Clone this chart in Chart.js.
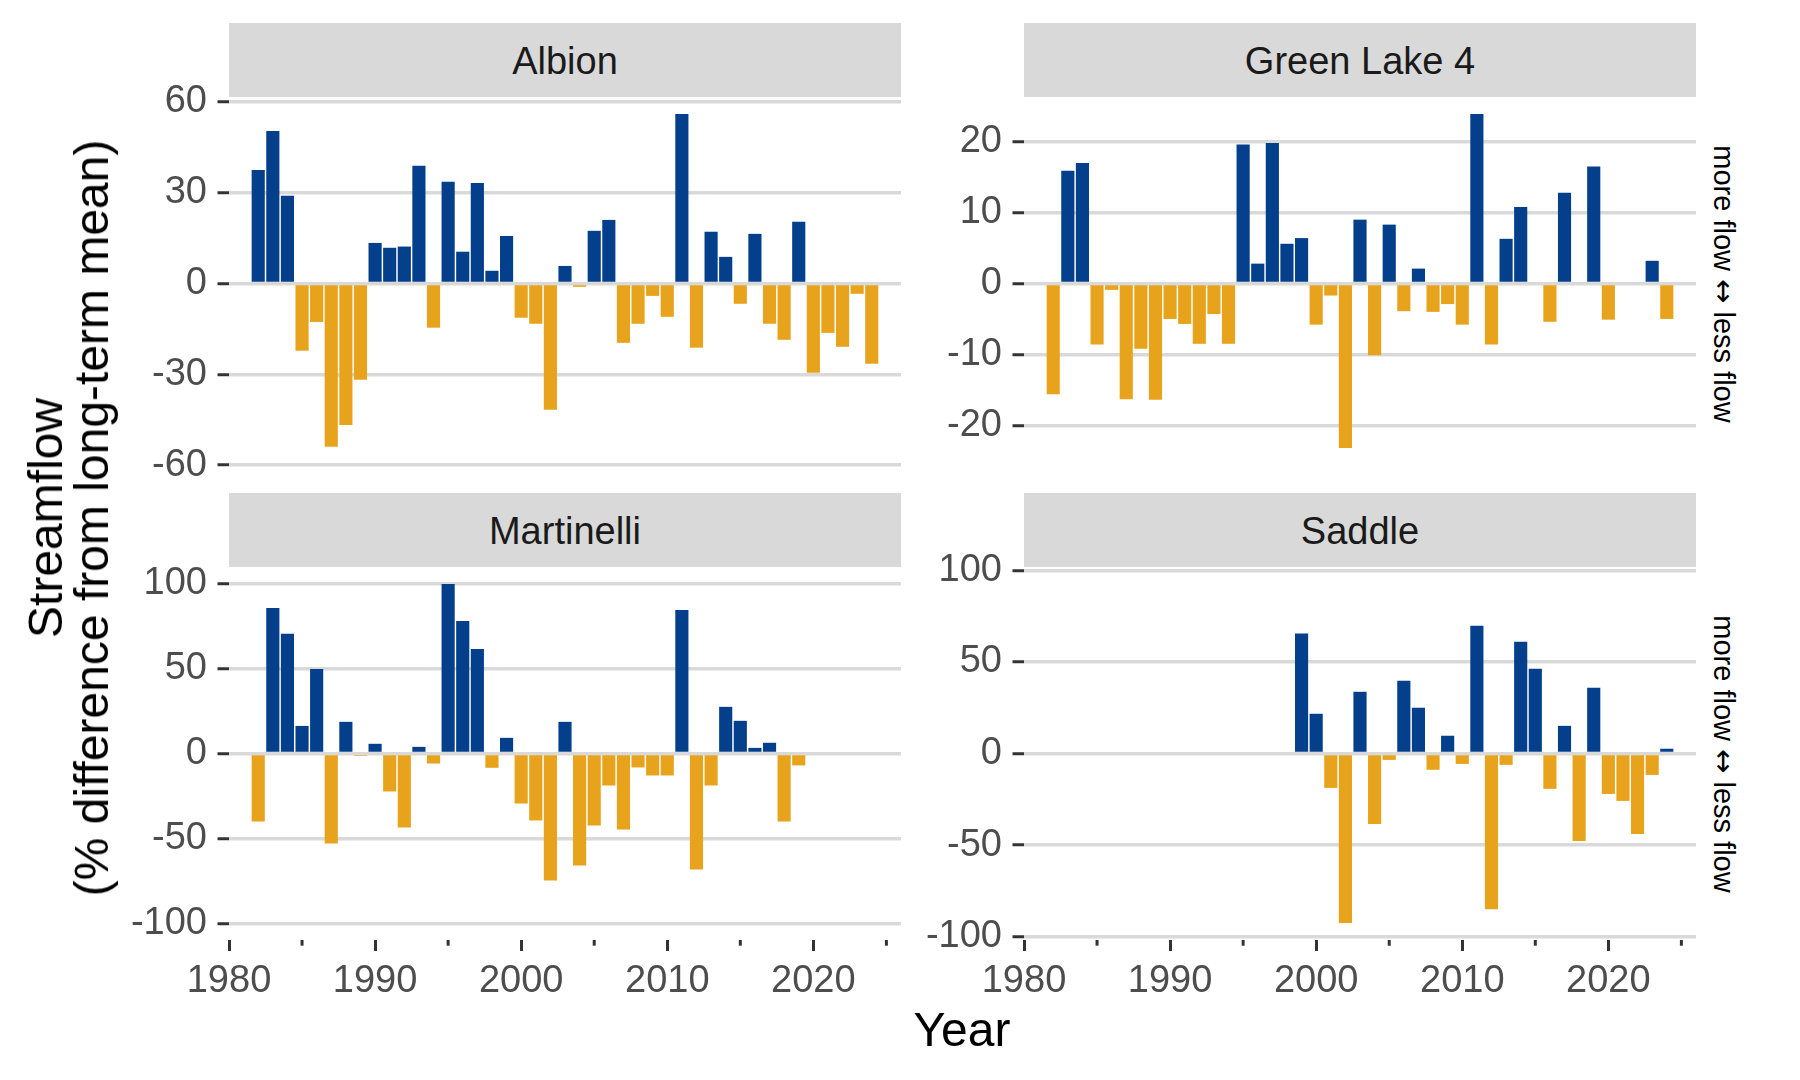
<!DOCTYPE html>
<html><head><meta charset="utf-8">
<script src="https://cdn.jsdelivr.net/npm/chart.js@4.4.1/dist/chart.umd.min.js"></script>
<style>
body{margin:0;background:#fff;width:1800px;height:1080px;overflow:hidden;position:relative;font-family:'Liberation Sans',Arial,Helvetica,sans-serif;}
.strip{position:absolute;background:#D9D9D9;color:#1A1A1A;font-size:38px;display:flex;align-items:center;justify-content:center;padding-top:3px;box-sizing:border-box;}
canvas{position:absolute;}
.lbl{position:absolute;white-space:nowrap;text-align:center;color:#000;}
.arr{font-family:'DejaVu Sans',sans-serif;}
</style></head><body>
<script>
// ---------------- data ----------------
const years = [1982,1983,1984,1985,1986,1987,1988,1989,1990,1991,1992,1993,1994,1995,1996,1997,1998,1999,2000,2001,2002,2003,2004,2005,2006,2007,2008,2009,2010,2011,2012,2013,2014,2015,2016,2017,2018,2019,2020,2021,2022,2023,2024];
const albion = [37.5,50.4,29.0,-22.2,-12.7,-53.9,-46.7,-31.8,13.4,11.8,12.2,38.9,-14.6,33.6,10.5,33.2,4.2,15.7,-11.3,-13.3,-41.7,5.8,-1.1,17.4,21.0,-19.6,-13.3,-4.1,-11.0,56.0,-21.2,17.1,8.8,-6.7,16.4,-13.3,-18.6,20.4,-29.5,-16.3,-20.9,-3.4,-26.5];
const greenLake4 = [-15.6,15.9,17.0,-8.6,-0.9,-16.3,-9.2,-16.4,-5.0,-5.7,-8.5,-4.3,-8.5,19.6,2.8,19.8,5.6,6.4,-5.8,-1.7,-23.2,9.0,-10.1,8.3,-3.9,2.1,-4.0,-2.9,-5.8,23.9,-8.6,6.3,10.8,null,-5.4,12.8,null,16.5,-5.1,null,null,3.2,-5.0];
const martinelli = [-39.9,85.5,70.3,16.2,49.7,-52.8,18.6,-1.4,5.7,-22.3,-43.4,3.9,-5.9,99.6,77.9,61.4,-8.4,9.2,-29.4,-39.3,-74.6,18.6,-65.8,-42.3,-18.8,-44.6,-8.2,-12.9,-12.9,84.3,-68.1,-18.8,27.4,19.2,3.3,6.3,-39.9,-7.0,null,null,null,null,null];
const saddle = [null,null,null,null,null,null,null,null,null,null,null,null,null,null,null,null,null,65.5,21.7,-18.8,-92.6,33.7,-38.5,-3.5,39.7,25.0,-8.9,9.7,-5.7,69.8,-85.0,-6.2,61.1,46.3,-19.3,15.1,-47.8,35.9,-22.1,-25.9,-43.9,-11.7,2.6];
const albionTicks = [-60,-30,0,30,60];
const greenTicks = [-20,-10,0,10,20];
const martinelliTicks = [-100,-50,0,50,100];
const saddleTicks = [-100,-50,0,50,100];
const xMajorTicks = [1980,1990,2000,2010,2020];
const xMinorTicks = [1985,1995,2005,2015,2025];
const panelNames = ['Albion','Green Lake 4','Martinelli','Saddle'];
// ---------------- layout ----------------
const FONT = "'Liberation Sans', Arial, Helvetica, sans-serif";
const BLUE = '#033F8A', ORANGE = '#E8A31D';
const colLeft = [229, 1024], panelW = 672;
const rowTop = [97, 567], panelH = 373;
const yAxisW = 129, padTop = 45, xAxisH = 90;
const stripH = 74;

const minorTickPlugin = {
  id: 'minorTicks',
  afterDraw(chart) {
    const s = chart.scales.x;
    if (!s.options.display) return;
    const ctx = chart.ctx;
    ctx.save();
    ctx.strokeStyle = '#333333';
    ctx.lineWidth = 3;
    const y0 = chart.chartArea.bottom;
    xMinorTicks.forEach(v => {
      const x = s.getPixelForValue(v);
      ctx.beginPath(); ctx.moveTo(x, y0); ctx.lineTo(x, y0 + 5.7); ctx.stroke();
    });
    ctx.restore();
  }
};

function addDiv(cls, text, css) {
  const d = document.createElement('div');
  d.className = cls; d.innerHTML = text;
  Object.assign(d.style, css);
  document.body.appendChild(d);
  return d;
}

function makePanel(idx, values, ticks) {
  const col = idx % 2, row = Math.floor(idx / 2);
  const bottomRow = row === 1;
  const left = colLeft[col] - yAxisW;
  const top = rowTop[row] - padTop;
  const w = yAxisW + panelW;
  const h = padTop + panelH + (bottomRow ? xAxisH : padTop);
  addDiv('strip', panelNames[idx], {left: colLeft[col] + 'px', top: (rowTop[row] - stripH) + 'px', width: panelW + 'px', height: stripH + 'px'});
  const cv = document.createElement('canvas');
  cv.width = w; cv.height = h;
  cv.style.left = left + 'px'; cv.style.top = top + 'px';
  cv.style.width = w + 'px'; cv.style.height = h + 'px';
  document.body.appendChild(cv);
  const lim = 1.1 * Math.max(...values.filter(v => v !== null).map(Math.abs));
  new Chart(cv, {
    type: 'bar',
    data: {
      labels: years,
      datasets: [{
        data: values,
        backgroundColor: c => (c.raw >= 0 ? BLUE : ORANGE),
        borderWidth: 0,
        barPercentage: 0.9,
        categoryPercentage: 1.0
      }]
    },
    options: {
      responsive: false, animation: false, devicePixelRatio: 1,
      layout: {padding: {top: padTop, bottom: bottomRow ? 0 : padTop, left: 0, right: 0}},
      plugins: {legend: {display: false}, tooltip: {enabled: false}, title: {display: false}},
      scales: {
        x: {
          type: 'linear', min: 1980, max: 2026, offset: false, display: bottomRow,
          grid: {offset: false, drawOnChartArea: false, drawTicks: true, tickLength: 11, tickWidth: 3, tickColor: '#333333'},
          border: {display: false},
          ticks: {font: {size: 38, family: FONT}, color: '#4D4D4D', padding: 8, maxRotation: 0, autoSkip: false, callback: v => String(v)},
          afterBuildTicks: s => { s.ticks = xMajorTicks.map(v => ({value: v})); },
          afterFit: s => { if (bottomRow) s.height = xAxisH; }
        },
        y: {
          min: -lim, max: lim,
          grid: {color: '#D9D9D9', lineWidth: 3.5, tickLength: 11.5, tickWidth: 3, tickColor: '#333333'},
          border: {display: false},
          ticks: {font: {size: 38, family: FONT}, color: '#4D4D4D', padding: 10.5, callback: v => String(v)},
          afterBuildTicks: s => { s.ticks = ticks.map(v => ({value: v})); },
          afterFit: s => { s.width = yAxisW; }
        }
      }
    },
    plugins: [minorTickPlugin]
  });
}

makePanel(0, albion, albionTicks);
makePanel(1, greenLake4, greenTicks);
makePanel(2, martinelli, martinelliTicks);
makePanel(3, saddle, saddleTicks);

// titles
addDiv('lbl', 'Streamflow<br>(% difference from long-term mean)', {left: '69px', top: '518px', fontSize: '48px', lineHeight: '46px', transform: 'translate(-50%,-50%) rotate(-90deg)'});
addDiv('lbl', 'Year', {left: '962px', top: '1030px', fontSize: '48px', lineHeight: '48px', transform: 'translate(-50%,-50%)'});
const sideText = 'more flow <span class="arr">↔</span> less flow';
addDiv('lbl', sideText, {left: '1723px', top: '283.5px', fontSize: '29px', lineHeight: '29px', transform: 'translate(-50%,-50%) rotate(90deg)'});
addDiv('lbl', sideText, {left: '1723px', top: '753.5px', fontSize: '29px', lineHeight: '29px', transform: 'translate(-50%,-50%) rotate(90deg)'});
</script>
</body></html>
